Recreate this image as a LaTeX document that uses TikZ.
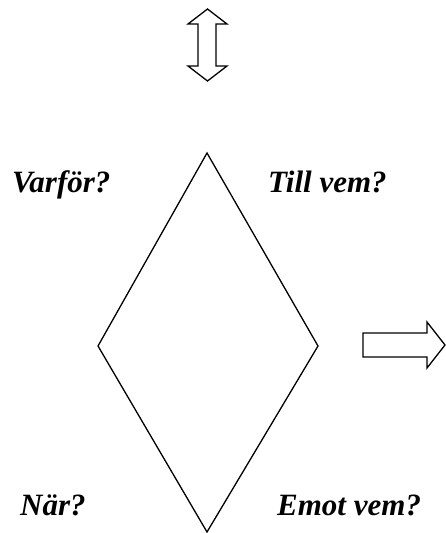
\documentclass[tikz,border=0pt]{standalone}
\usepackage{fontspec}
\setmainfont{Liberation Serif}
\begin{document}
\begin{tikzpicture}[x=1pt,y=-1pt,
  outline/.style={draw=black,line width=1.3pt,line join=miter},
  question/.style={font=\fontsize{31}{37}\selectfont\bfseries\itshape,anchor=base west,inner sep=0pt}]
\useasboundingbox (0,0) rectangle (446,533);
% central rhombus
\coordinate (top) at (207,153);
\coordinate (left) at (98,346);
\coordinate (right) at (318,346);
\coordinate (bottom) at (207,532);
\draw[outline] (top) -- (right) -- (bottom) -- (left) -- cycle;
% vertical double block arrow
\draw[outline] (207.5,9) -- (227,24) -- (216,24) -- (216,66) -- (227,66) -- (207.5,81)
  -- (188,66) -- (198,66) -- (198,24) -- (188,24) -- cycle;
% right block arrow
\draw[outline] (363,333) -- (427,333) -- (427,322) -- (445,345) -- (427,368)
  -- (427,357) -- (363,357) -- cycle;
% questions
\node[question] (q1) at (12,192) {Varför?};
\node[question] (q2) at (268,192) {Till vem?};
\node[question] (q3) at (20,515) {När?};
\node[question] (q4) at (277,515) {Emot vem?};
\end{tikzpicture}
\end{document}
